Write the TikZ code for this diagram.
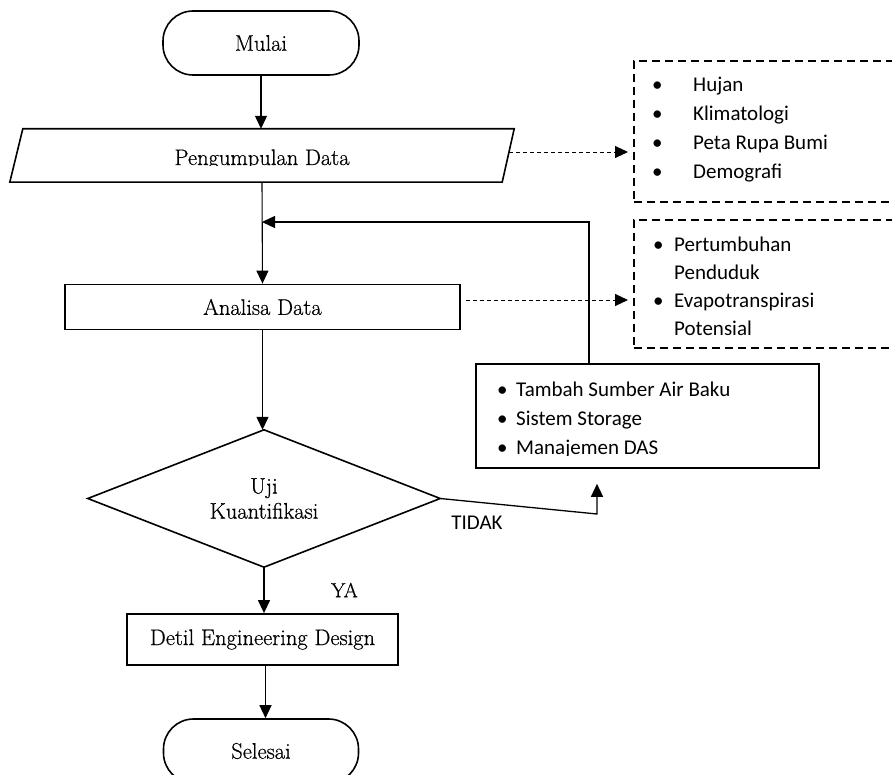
\documentclass[tikz,border=0pt]{standalone}
\usepackage{fontspec}
\newfontfamily\sansf{Carlito}
\newfontfamily\serf{Latin Modern Roman}[FakeBold=0.6]
\usetikzlibrary{arrows.meta,shapes.geometric}
\newcommand{\serfs}{\serf\fontsize{22.5}{25}\selectfont}
\newcommand{\sanfs}{\sansf\fontsize{21}{29}\selectfont}
\begin{document}
\begin{tikzpicture}[x=1pt,y=-1pt,
  term/.style={draw, line width=1.6pt, rounded corners=30pt, minimum width=196pt, minimum height=64pt, inner sep=0pt, font=\serfs},
  proc/.style={draw, line width=1.8pt, inner sep=0pt, font=\serfs},
  conn/.style={line width=1.3pt, -{Triangle[length=13pt,width=12pt]}},
  dconn/.style={line width=0.9pt, dash pattern=on 4pt off 3pt, -{Triangle[length=13pt,width=12pt]}},
  dbox/.style={draw, line width=1.8pt, dash pattern=on 8pt off 5pt, inner sep=0pt},
  lst/.style={font=\sanfs, inner sep=0pt, align=left}
]
\useasboundingbox (0,0) rectangle (892,775);
\clip (0,0) rectangle (892,775);

% terminals
\node[term] (mulai) at (261,43) {Mulai};
\node[term, minimum width=195pt] (sel) at (261,751) {Selesai};

% parallelogram
\node[minimum width=504pt, minimum height=53pt, inner sep=0pt] (pd) at (262,155.5) {};
\draw[line width=1.6pt] ([xshift=13pt]pd.north west) -- (pd.north east) -- ([xshift=-12pt]pd.south east) -- (pd.south west) -- cycle;
\begin{scope}
  \clip (0,135) rectangle (892,165.5);
  \node[font=\serfs, inner sep=0pt, anchor=base] (pdt) at (262,165) {Pengumpulan Data};
\end{scope}

% process boxes
\node[proc, minimum width=395pt, minimum height=45pt] (an) at (262.5,307) {Analisa Data};
\node[proc, minimum width=271pt, minimum height=51pt] (det) at (262.5,639.5) {Detil Engineering Design};

% decision
\node[inner sep=0pt, minimum width=352pt, minimum height=137pt, font=\serfs, align=center] (dia) at (264,498.5) {Uji\\Kuantifikasi};
\draw[line width=1.6pt] (dia.north) -- (dia.east) -- (dia.south) -- (dia.west) -- cycle;

% dashed info boxes
\node[dbox, minimum width=300pt, minimum height=141pt, anchor=north west] (d1) at (633,60) {};
\node[lst, anchor=base west] (d1t) at (652,92) {\begin{tabular}[t]{@{}p{41pt}@{}l@{}}\textbullet & Hujan\\ \textbullet & Klimatologi\\ \textbullet & Peta Rupa Bumi\\ \textbullet & Demografi\end{tabular}};

\node[dbox, minimum width=300pt, minimum height=128pt, anchor=north west] (d2) at (633,219) {};
\node[lst, anchor=base west, font=\sansf\fontsize{21}{27.7}\selectfont] (d2t) at (653,252) {\begin{tabular}[t]{@{}p{21pt}@{}l@{}}\textbullet & Pertumbuhan\\ & Penduduk\\ \textbullet & Evapotranspirasi\\ & Potensial\end{tabular}};

% solid action box
\node[draw, line width=1.8pt, minimum width=343pt, minimum height=104pt, anchor=north west, inner sep=0pt] (b3) at (475,363) {};
\begin{scope}
  \clip (470,365) rectangle (820,455.5);
  \node[lst, anchor=base west] (b3t) at (497,397) {\begin{tabular}[t]{@{}p{19pt}@{}l@{}}\textbullet & Tambah Sumber Air Baku\\ \textbullet & Sistem Storage\\ \textbullet & Manajemen DAS\end{tabular}};
\end{scope}

% connectors
\draw[conn] (mulai.south) -- (mulai.south |- pd.north);
\draw[conn, line width=1.1pt] (pd.south) -- (an.north);
\coordinate (fb) at (262,222);
\coordinate (fbs) at (589,363);
\draw[conn] (fbs) |- (fb);
\draw[conn] (an.south) -- (an.south |- dia.north);
\coordinate (tk) at (597,514);
\draw[conn, shorten >=15pt] (dia.east) -- (tk) -- (tk |- b3.south);
\draw[conn] (dia.south) -- (dia.south |- det.north);
\draw[conn] ([xshift=3pt]det.south) -- ([xshift=3pt]det.south |- sel.north);

\draw[dconn, shorten >=5pt] ([xshift=-5pt,yshift=3.5pt]pd.east) coordinate (p1) -- (p1 -| d1.west);
\draw[dconn, shorten >=5pt, shorten <=5pt] ([yshift=7pt]an.east) coordinate (p2) -- (p2 -| d2.west);

% labels
\node[font=\sansf\fontsize{21}{24}\selectfont, inner sep=0pt] (tidak) at (477,523) {TIDAK};
\node[font=\serf\fontsize{20.5}{24}\selectfont, inner sep=0pt] (ya) at (344.5,590) {YA};
\end{tikzpicture}
\end{document}
